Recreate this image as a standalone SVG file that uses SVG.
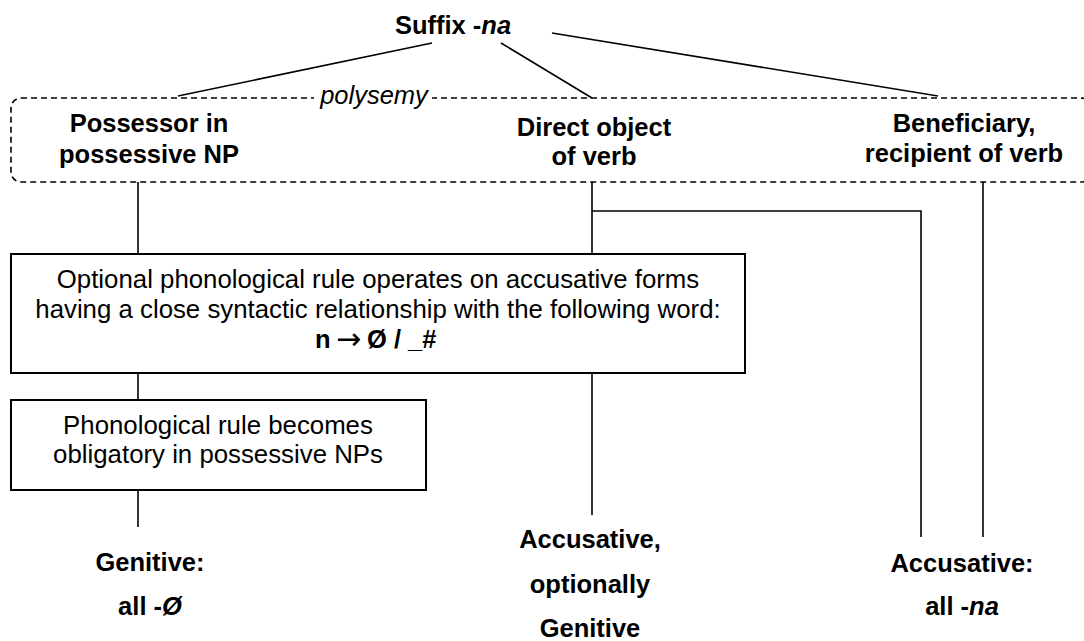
<svg xmlns="http://www.w3.org/2000/svg" width="1084" height="641" viewBox="0 0 1084 641">
<style>
text{font-family:"Liberation Sans",Arial,sans-serif;fill:#000;text-anchor:middle}
.b{font-weight:bold;font-size:25.5px}
.r{font-size:25.8px}
.i{font-style:italic}
.arrow{font-family:"DejaVu Sans",sans-serif;font-weight:normal;font-size:30px}
.box{fill:#fff;stroke:#000;stroke-width:2}
.dash{fill:none;stroke:#000;stroke-width:1.6;stroke-dasharray:6 4}
.c{fill:none;stroke:#000;stroke-width:1.6}
</style>
<rect width="1084" height="641" fill="#fff"/>
<g id="polysemy-frame">
<rect class="dash" x="11" y="98" width="1080" height="84" rx="10"/>
<rect x="314" y="86" width="118" height="22" fill="#fff"/>
<text class="i" x="374" y="104" style="font-size:25.5px">polysemy</text>
</g>
<g id="connectors">
<line class="c" x1="432" y1="43" x2="178" y2="96"/>
<line class="c" x1="501" y1="43" x2="592" y2="98"/>
<line class="c" x1="552" y1="33" x2="938" y2="96"/>
<line class="c" x1="138" y1="182" x2="138" y2="254"/>
<line class="c" x1="138" y1="373" x2="138" y2="400"/>
<line class="c" x1="138" y1="490" x2="138" y2="527"/>
<line class="c" x1="592" y1="182" x2="592" y2="254"/>
<line class="c" x1="592" y1="373" x2="592" y2="515"/>
<polyline class="c" points="592,211 921,211 921,537"/>
<line class="c" x1="983" y1="182" x2="983" y2="537"/>
</g>
<g id="suffix">
<text class="b" x="453" y="34">Suffix -<tspan class="i">na</tspan></text>
</g>
<g id="possessor">
<text class="b" x="149" y="132">Possessor in</text>
<text class="b" x="149" y="163">possessive NP</text>
</g>
<g id="direct-object">
<text class="b" x="594" y="136">Direct object</text>
<text class="b" x="594" y="165">of verb</text>
</g>
<g id="beneficiary">
<text class="b" x="964" y="132">Beneficiary,</text>
<text class="b" x="964" y="162">recipient of verb</text>
</g>
<g id="optional-rule">
<rect class="box" x="11" y="254" width="734" height="119"/>
<text class="r" x="378" y="288">Optional phonological rule operates on accusative forms</text>
<text class="r" x="378" y="318">having a close syntactic relationship with the following word:</text>
<text class="b" y="348" style="text-anchor:start"><tspan x="315">n</tspan><tspan class="arrow" x="336" y="349">→</tspan><tspan x="367" y="348">Ø / _#</tspan></text>
</g>
<g id="obligatory-rule">
<rect class="box" x="11" y="400" width="415" height="90"/>
<text class="r" x="218" y="434">Phonological rule becomes</text>
<text class="r" x="218" y="463">obligatory in possessive NPs</text>
</g>
<g id="genitive">
<text class="b" x="150" y="571">Genitive:</text>
<text class="b" x="150" y="615">all -<tspan class="i">Ø</tspan></text>
</g>
<g id="accusative-optionally-genitive">
<text class="b" x="590" y="548">Accusative,</text>
<text class="b" x="590" y="593">optionally</text>
<text class="b" x="590" y="637">Genitive</text>
</g>
<g id="accusative-na">
<text class="b" x="962" y="572">Accusative:</text>
<text class="b" x="962" y="615">all -<tspan class="i">na</tspan></text>
</g>
</svg>
